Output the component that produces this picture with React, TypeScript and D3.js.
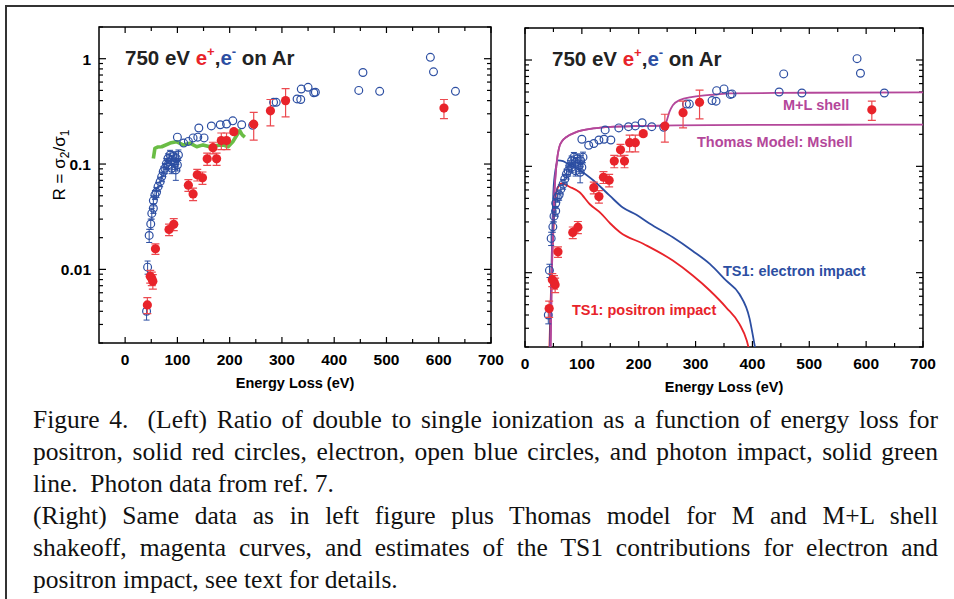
import React, { useEffect, useRef } from 'react';
import * as d3 from 'd3';

// electron impact (open blue circles)
const elecE = [41, 43, 46, 49, 51, 54, 54, 57, 60, 63, 67, 70, 73, 76, 79, 82, 86, 89, 92, 95, 98, 102, 97, 100, 89, 82,
  100, 112, 121, 130, 139, 151, 141, 165, 182, 194, 206, 223, 244, 284, 289, 329, 336, 337, 350, 361, 364, 447, 455, 487, 584, 590, 632];
const elecR = [0.004, 0.0105, 0.021, 0.027, 0.034, 0.038, 0.045, 0.051, 0.054, 0.061, 0.068, 0.076, 0.085, 0.091, 0.101, 0.113, 0.122, 0.109, 0.118, 0.101, 0.113, 0.122, 0.088, 0.098, 0.091, 0.098,
  0.18, 0.158, 0.164, 0.177, 0.18, 0.177, 0.22, 0.23, 0.236, 0.24, 0.257, 0.236, 0.233, 0.385, 0.385, 0.415, 0.41, 0.515, 0.535, 0.475, 0.48, 0.5, 0.74, 0.49, 1.03, 0.75, 0.49];
const elecErr = [0.0007, 0.0015, 0.003, 0.003, 0.004, 0.004, 0.005, 0.005, 0.006, 0.006, 0.007, 0.008, 0.009, 0.01, 0.012, 0.012, 0.013, 0.012, 0.013, 0.012, 0.014, 0.014, 0.018, 0.012, 0.01, 0.01,
  0, 0, 0, 0, 0, 0, 0, 0, 0, 0, 0, 0, 0, 0, 0, 0, 0, 0, 0, 0, 0, 0, 0, 0, 0, 0, 0];

// positron impact (solid red circles)
const posE = [42.5, 48, 51, 53, 58, 84, 93, 121, 130, 138, 148, 157, 168, 175, 184, 194, 208, 246, 278, 307, 610];
const posR = [0.0046, 0.0086, 0.0082, 0.0077, 0.0157, 0.0239, 0.0268, 0.063, 0.052, 0.079, 0.074, 0.112, 0.143, 0.112, 0.167, 0.167, 0.203, 0.239, 0.32, 0.4, 0.34];
const posErr = [0.0008, 0.0012, 0.0012, 0.0012, 0.0018, 0.003, 0.0035, 0.008, 0.007, 0.01, 0.01, 0.015, 0.018, 0.015, 0.03, 0.03, 0.01, 0.07, 0.09, 0.12, 0.07];

// photon impact (green line, left panel)
const photonE = [54, 57, 62, 70, 86, 98, 111, 124, 137, 149, 162, 175, 187, 197, 206, 216, 219, 224, 229];
const photonR = [0.113, 0.141, 0.145, 0.146, 0.158, 0.163, 0.152, 0.158, 0.146, 0.152, 0.146, 0.15, 0.152, 0.146, 0.163, 0.196, 0.208, 0.189, 0.18];

// Thomas model curves (right panel)
const mShellE = [45, 46.5, 48, 50, 52, 55, 60, 66, 73, 90, 120, 150, 208, 266, 400, 550, 700];
const mShellR = [0.002, 0.006, 0.015, 0.032, 0.06, 0.099, 0.15, 0.175, 0.189, 0.21, 0.227, 0.235, 0.24, 0.243, 0.245, 0.246, 0.247];
const mlShellE = [45, 46.5, 48, 50, 52, 55, 60, 66, 73, 90, 120, 150, 208, 240, 248, 254, 260, 272, 295, 336, 360, 500, 700];
const mlShellR = [0.002, 0.006, 0.015, 0.032, 0.06, 0.099, 0.15, 0.175, 0.189, 0.21, 0.227, 0.235, 0.24, 0.242, 0.26, 0.325, 0.376, 0.42, 0.45, 0.474, 0.485, 0.492, 0.497];

// TS1 estimates
const ts1eE = [44, 46, 48.5, 50, 54, 58, 67, 79, 96, 120, 149, 172, 196, 219, 260, 295, 325, 354, 377, 395, 403, 406];
const ts1eR = [0.002, 0.008, 0.032, 0.059, 0.095, 0.114, 0.112, 0.102, 0.092, 0.074, 0.053, 0.041, 0.035, 0.029, 0.0215, 0.016, 0.0121, 0.0084, 0.0063, 0.0037, 0.0022, 0.0018];
const ts1pE = [43, 46, 50, 52.6, 55.6, 64, 79, 96, 114, 134, 150, 167, 208, 260, 295, 325, 354, 377, 390, 395];
const ts1pR = [0.002, 0.008, 0.025, 0.044, 0.059, 0.069, 0.064, 0.057, 0.044, 0.036, 0.029, 0.024, 0.0187, 0.013, 0.0094, 0.0068, 0.0047, 0.0033, 0.0023, 0.0018];

const xTicks = [0, 100, 200, 300, 400, 500, 600, 700];
const yTickLabels = ['0.01', '0.1', '1'];
const yTicks = [0.01, 0.1, 1];

const captionLines = [
  'Figure 4.  (Left) Ratio of double to single ionization as a function of energy loss for',
  'positron, solid red circles, electron, open blue circles, and photon impact, solid green',
  'line.  Photon data from ref. 7.',
  '(Right) Same data as in left figure plus Thomas model for M and M+L shell',
  'shakeoff, magenta curves, and estimates of the TS1 contributions for electron and',
  'positron impact, see text for details.'
];
const justified = [true, true, false, true, true, false];

const RED = '#e8232a';
const BLUE = '#2c4ea2';
const MAG = '#b4479a';
const GREEN = '#6abd45';
const SANS = '"Liberation Sans", Arial, sans-serif';

function App() {
  const ref = useRef(null);

  useEffect(() => {
    const svg = d3.select(ref.current);
    svg.selectAll('*').remove();

    // outer frame
    svg.append('path')
      .attr('d', 'M6,605 L6,6 L960,6')
      .attr('fill', 'none')
      .attr('stroke', '#333')
      .attr('stroke-width', 2);

    const panels = [
      { key: 'L', x0: 99, x1: 491, y0: 27, y1: 343, xdom: [-50, 700], right: false },
      { key: 'R', x0: 525, x1: 923, y0: 28, y1: 347, xdom: [0, 700], right: true }
    ];

    panels.forEach(p => {
      const x = d3.scaleLinear().domain(p.xdom).range([p.x0, p.x1]);
      const y = d3.scaleLog().domain([0.002, 2]).range([p.y1, p.y0]);
      const g = svg.append('g');

      // clip
      g.append('clipPath').attr('id', 'clip' + p.key)
        .append('rect').attr('x', p.x0).attr('y', p.y0)
        .attr('width', p.x1 - p.x0).attr('height', p.y1 - p.y0);

      // ticks (inward, all four sides)
      const ticks = g.append('g').attr('stroke', '#000').attr('stroke-width', 1.2);
      for (let v = 0; v <= 700; v += 50) {
        const len = v % 100 === 0 ? 6 : 4;
        const xx = x(v);
        ticks.append('line').attr('x1', xx).attr('x2', xx).attr('y1', p.y1).attr('y2', p.y1 - len);
        ticks.append('line').attr('x1', xx).attr('x2', xx).attr('y1', p.y0).attr('y2', p.y0 + len);
      }
      [0.001, 0.01, 0.1, 1].forEach(dec => {
        for (let m = 1; m <= 9; m++) {
          const v = dec * m;
          if (v < 0.002 || v > 2.0001) continue;
          const len = m === 1 ? 7 : 4;
          const yy = y(v);
          ticks.append('line').attr('x1', p.x0).attr('x2', p.x0 + len).attr('y1', yy).attr('y2', yy);
          ticks.append('line').attr('x1', p.x1).attr('x2', p.x1 - len).attr('y1', yy).attr('y2', yy);
        }
      });

      // frame
      g.append('rect')
        .attr('x', p.x0).attr('y', p.y0)
        .attr('width', p.x1 - p.x0).attr('height', p.y1 - p.y0)
        .attr('fill', 'none').attr('stroke', '#000').attr('stroke-width', 1.5);

      // x tick labels
      g.selectAll('text.xt').data(xTicks).enter().append('text')
        .attr('x', d => x(d)).attr('y', p.y1 + 22)
        .attr('text-anchor', 'middle')
        .attr('font-family', SANS).attr('font-weight', 'bold').attr('font-size', 15.5)
        .text(d => d);

      g.append('text')
        .attr('x', (p.x0 + p.x1) / 2).attr('y', p.y1 + 45)
        .attr('text-anchor', 'middle')
        .attr('font-family', SANS).attr('font-weight', 'bold').attr('font-size', 14.5)
        .text('Energy Loss (eV)');

      if (!p.right) {
        g.selectAll('text.yt').data(yTicks).enter().append('text')
          .attr('x', p.x0 - 8).attr('y', d => y(d) + 6)
          .attr('text-anchor', 'end')
          .attr('font-family', SANS).attr('font-weight', 'bold').attr('font-size', 15.5)
          .text((d, i) => yTickLabels[i]);

        const yl = g.append('text')
          .attr('transform', `translate(65,165) rotate(-90)`)
          .attr('text-anchor', 'middle')
          .attr('font-family', SANS).attr('font-size', 17);
        yl.append('tspan').text('R = σ');
        yl.append('tspan').attr('font-size', 12).attr('dy', 4).text('2');
        yl.append('tspan').attr('dy', -4).text('/σ');
        yl.append('tspan').attr('font-size', 12).attr('dy', 4).text('1');
      }

      // title
      const t = g.append('text')
        .attr('x', p.x0 + (p.right ? 27 : 26)).attr('y', p.y0 + 38)
        .attr('font-family', SANS).attr('font-weight', 'bold').attr('font-size', 20.5)
        .attr('fill', '#222');
      t.append('tspan').text('750 eV ');
      t.append('tspan').attr('fill', RED).text('e');
      t.append('tspan').attr('fill', RED).attr('font-size', 13).attr('dy', -9).text('+');
      t.append('tspan').attr('dy', 9).text(',');
      t.append('tspan').attr('fill', BLUE).text('e');
      t.append('tspan').attr('fill', BLUE).attr('font-size', 13).attr('dy', -9).text('-');
      t.append('tspan').attr('dy', 9).text(' on Ar');

      const plot = g.append('g').attr('clip-path', `url(#clip${p.key})`);
      const line = d3.line().x(d => x(d[0])).y(d => y(d[1]));

      if (!p.right) {
        plot.append('path')
          .datum(photonE.map((e, i) => [e, photonR[i]]))
          .attr('d', line)
          .attr('fill', 'none').attr('stroke', GREEN).attr('stroke-width', 3.6)
          .attr('stroke-linejoin', 'round');
      } else {
        const smooth = d3.line().x(d => x(d[0])).y(d => y(d[1])).curve(d3.curveMonotoneX);
        const curves = [
          { e: ts1pE, r: ts1pR, c: RED },
          { e: ts1eE, r: ts1eR, c: BLUE },
          { e: mShellE, r: mShellR, c: MAG },
          { e: mlShellE, r: mlShellR, c: MAG }
        ];
        curves.forEach(cv => {
          plot.append('path')
            .datum(cv.e.map((e, i) => [e, cv.r[i]]))
            .attr('d', smooth)
            .attr('fill', 'none').attr('stroke', cv.c).attr('stroke-width', 1.8);
        });

        const lab = (tx, xx, yy, c) => g.append('text')
          .attr('x', xx).attr('y', yy)
          .attr('font-family', SANS).attr('font-weight', 'bold').attr('font-size', 14.5)
          .attr('fill', c).text(tx);
        lab('M+L shell', 783, 110, MAG);
        lab('Thomas Model: Mshell', 697, 147, MAG);
        lab('TS1: electron impact', 723, 276, BLUE);
        lab('TS1: positron impact', 572, 315, RED);
      }

      // electron error bars
      elecE.forEach((e, i) => {
        if (!elecErr[i]) return;
        const xx = x(e);
        const ya = y(elecR[i] + elecErr[i]);
        const yb = y(Math.max(0.0021, elecR[i] - elecErr[i]));
        plot.append('path')
          .attr('d', `M${xx},${ya}V${yb}M${xx - 3},${ya}H${xx + 3}M${xx - 3},${yb}H${xx + 3}`)
          .attr('stroke', BLUE).attr('stroke-width', 1).attr('fill', 'none');
      });
      plot.selectAll('circle.el').data(elecE).enter().append('circle')
        .attr('cx', d => x(d)).attr('cy', (d, i) => y(elecR[i])).attr('r', 3.9)
        .attr('fill', 'none').attr('stroke', BLUE).attr('stroke-width', 1.2);

      // positron error bars + dots
      posE.forEach((e, i) => {
        const xx = x(e);
        const ya = y(posR[i] + posErr[i]);
        const yb = y(posR[i] - posErr[i]);
        plot.append('path')
          .attr('d', `M${xx},${ya}V${yb}M${xx - 4},${ya}H${xx + 4}M${xx - 4},${yb}H${xx + 4}`)
          .attr('stroke', '#ec4a50').attr('stroke-width', 1.2).attr('fill', 'none');
      });
      plot.selectAll('circle.po').data(posE).enter().append('circle')
        .attr('cx', d => x(d)).attr('cy', (d, i) => y(posR[i])).attr('r', 4.6)
        .attr('fill', RED);
    });

    // caption, justified lines get word-spacing
    const cap = svg.append('g')
      .attr('font-family', '"Liberation Serif", "Times New Roman", serif')
      .attr('font-size', 25.5).attr('fill', '#111');
    captionLines.forEach((ln, i) => {
      const txt = cap.append('text')
        .attr('x', 33).attr('y', 428 + i * 32)
        .style('white-space', 'pre')
        .text(ln);
      if (justified[i]) {
        const natural = txt.node().getComputedTextLength();
        const spaces = (ln.match(/ /g) || []).length;
        txt.attr('word-spacing', (905 - natural) / spaces);
      }
    });
  }, []);

  return (
    <svg ref={ref} width={954} height={599}
      style={{ position: 'absolute', left: 0, top: 0, background: '#fff' }} />
  );
}

export default App;
